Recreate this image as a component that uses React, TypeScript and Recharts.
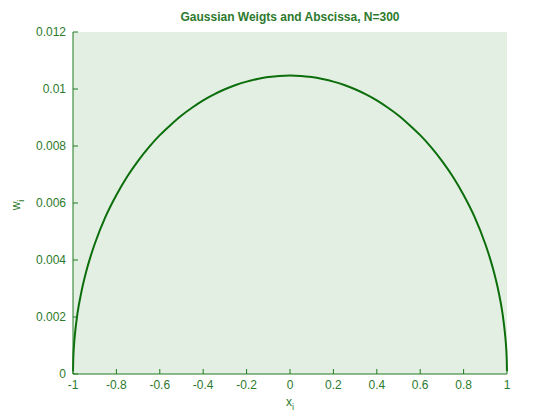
import React from 'react';
import { LineChart, Line, XAxis, YAxis, CartesianGrid } from 'recharts';

// abscissa x_i and weights w_i
const xs = [
  -0.9999, -0.999, -0.995, -0.99, -0.98, -0.96, -0.94, -0.92, -0.9, -0.85, -0.8, -0.75, -0.7,
  -0.65, -0.6, -0.55, -0.5, -0.45, -0.4, -0.35, -0.3, -0.25, -0.2, -0.15, -0.1, -0.05, 0,
  0.05, 0.1, 0.15, 0.2, 0.25, 0.3, 0.35, 0.4, 0.45, 0.5, 0.55, 0.6, 0.65, 0.7, 0.75, 0.8,
  0.85, 0.9, 0.92, 0.94, 0.96, 0.98, 0.99, 0.995, 0.999, 0.9999,
];
const ws = [
  0.0001, 0.00047, 0.00105, 0.00147, 0.00209, 0.00293, 0.00357, 0.0041, 0.00456, 0.00552,
  0.00628, 0.00693, 0.00748, 0.00796, 0.00838, 0.00874, 0.00907, 0.00935, 0.0096, 0.00981,
  0.00999, 0.01014, 0.01026, 0.01035, 0.01042, 0.01046, 0.01047, 0.01046, 0.01042, 0.01035,
  0.01026, 0.01014, 0.00999, 0.00981, 0.0096, 0.00935, 0.00907, 0.00874, 0.00838, 0.00796,
  0.00748, 0.00693, 0.00628, 0.00552, 0.00456, 0.0041, 0.00357, 0.00293, 0.00209, 0.00147,
  0.00105, 0.00047, 0.0001,
];
const xTicks = [-1, -0.8, -0.6, -0.4, -0.2, 0, 0.2, 0.4, 0.6, 0.8, 1];
const yTicks = [0, 0.002, 0.004, 0.006, 0.008, 0.01, 0.012];

const data = xs.map((x, i) => ({ x, w: ws[i] }));

const axisColor = '#1f7a1f';
const textColor = '#2d7a2d';
const font = 'Arial, "Liberation Sans", sans-serif';

const BottomTick = (props: any) => {
  const { x, y, payload } = props;
  return (
    <g>
      <line x1={x} y1={y} x2={x} y2={y - 5} stroke={axisColor} />
      <text x={x} y={y + 15} textAnchor="middle" fill={textColor} fontSize={12} fontFamily={font}>
        {payload.value}
      </text>
    </g>
  );
};

const TopTick = (props: any) => {
  const { x, y } = props;
  return <line x1={x} y1={y} x2={x} y2={y + 5} stroke={axisColor} />;
};

const LeftTick = (props: any) => {
  const { x, y, payload } = props;
  return (
    <g>
      <line x1={x} y1={y} x2={x + 5} y2={y} stroke={axisColor} />
      <text x={x - 7} y={y + 4} textAnchor="end" fill={textColor} fontSize={12} fontFamily={font}>
        {payload.value}
      </text>
    </g>
  );
};

const RightTick = (props: any) => {
  const { x, y } = props;
  return <line x1={x} y1={y} x2={x - 5} y2={y} stroke={axisColor} />;
};

export default function App() {
  return (
    <div style={{ position: 'absolute', left: 0, top: 0, background: '#fff' }}>
      <LineChart width={560} height={420} data={data} margin={{ top: 32, right: 53, left: 0, bottom: 0 }}>
        <CartesianGrid horizontal={false} vertical={false} fill="#e4efe4" />
        <XAxis
          xAxisId="b"
          dataKey="x"
          type="number"
          domain={[-1, 1]}
          ticks={xTicks}
          height={46}
          tickSize={0}
          tickMargin={0}
          tickLine={false}
          stroke={axisColor}
          tick={<BottomTick />}
          interval={0}
        />
        <XAxis
          xAxisId="t"
          dataKey="x"
          type="number"
          orientation="top"
          domain={[-1, 1]}
          ticks={xTicks}
          height={0}
          tickSize={0}
          tickMargin={0}
          tickLine={false}
          stroke={axisColor}
          tick={<TopTick />}
          interval={0}
        />
        <YAxis
          yAxisId="l"
          type="number"
          domain={[0, 0.012]}
          ticks={yTicks}
          width={73}
          tickSize={0}
          tickMargin={0}
          tickLine={false}
          stroke={axisColor}
          tick={<LeftTick />}
          interval={0}
        />
        <YAxis
          yAxisId="r"
          type="number"
          orientation="right"
          domain={[0, 0.012]}
          ticks={yTicks}
          width={0}
          tickSize={0}
          tickMargin={0}
          tickLine={false}
          stroke={axisColor}
          tick={<RightTick />}
          interval={0}
        />
        <Line
          xAxisId="b"
          yAxisId="l"
          dataKey="w"
          type="monotone"
          stroke="#0b6e0b"
          strokeWidth={2}
          dot={false}
          isAnimationActive={false}
        />
        <text x={290} y={21} textAnchor="middle" fill={textColor} fontSize={12} fontWeight="bold" fontFamily={font}>
          Gaussian Weigts and Abscissa, N=300
        </text>
        <text x={290} y={406} textAnchor="middle" fill={textColor} fontSize={12} fontFamily={font}>
          x<tspan fontSize={9} dy={4}>i</tspan>
        </text>
        <text
          x={20}
          y={205}
          textAnchor="middle"
          fill={textColor}
          fontSize={12}
          fontFamily={font}
          transform="rotate(-90 20 205)"
        >
          w<tspan fontSize={9} dy={4}>i</tspan>
        </text>
      </LineChart>
    </div>
  );
}
